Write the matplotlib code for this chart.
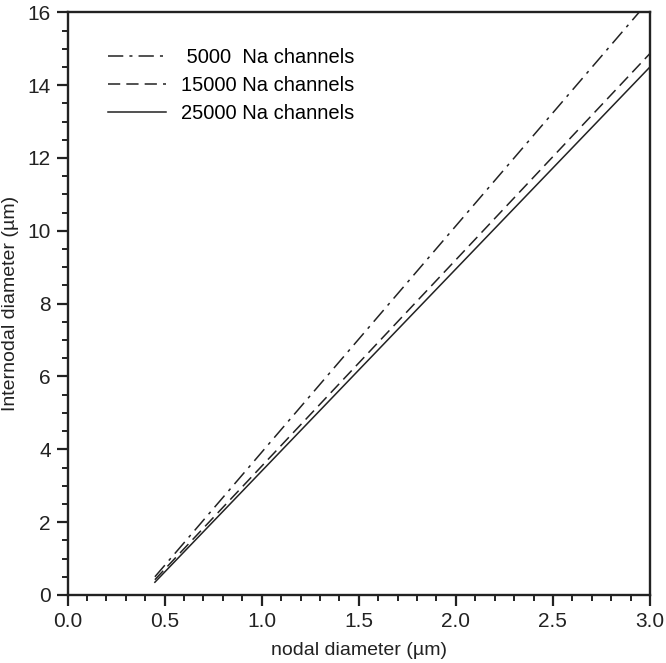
import matplotlib
matplotlib.use("Agg")
import matplotlib.pyplot as plt
from matplotlib.ticker import MultipleLocator, FormatStrFormatter

plt.rcParams['font.family'] = ['Liberation Sans', 'DejaVu Sans']

# Data
x_nodal = [0.45, 3.0]
y_5000 = [0.50, 16.35]
y_15000 = [0.42, 14.87]
y_25000 = [0.35, 14.50]
labels = [" 5000  Na channels", "15000 Na channels", "25000 Na channels"]

fig = plt.figure(figsize=(6.66, 6.63), dpi=100)
ax = fig.add_axes([67.5/666, 1 - 595/663, (650 - 67.5)/666, (595 - 12.3)/663])

lw = 1.1
c = '#222222'
ax.plot(x_nodal, y_5000, color=c, lw=lw, linestyle=(0, (10, 4, 2, 4)), label=labels[0])
ax.plot(x_nodal, y_15000, color=c, lw=lw, linestyle=(0, (8, 4)), label=labels[1])
ax.plot(x_nodal, y_25000, color=c, lw=lw, linestyle='-', label=labels[2])

ax.set_xlim(0, 3.0)
ax.set_ylim(0, 16)
ax.xaxis.set_major_locator(MultipleLocator(0.5))
ax.xaxis.set_minor_locator(MultipleLocator(0.1))
ax.yaxis.set_major_locator(MultipleLocator(2))
ax.yaxis.set_minor_locator(MultipleLocator(0.5))
ax.xaxis.set_major_formatter(FormatStrFormatter('%.1f'))

for s in ax.spines.values():
    s.set_linewidth(1.7)
    s.set_color(c)
ax.tick_params(which='major', direction='out', length=8, width=1.6, labelsize=15,
               colors=c, pad=4)
ax.tick_params(which='minor', direction='out', length=4, width=1.4, colors=c)
ax.tick_params(top=False, right=False)

ax.set_xlabel("nodal diameter (µm)", fontsize=14, color=c, labelpad=8)
ax.set_ylabel("Internodal diameter (µm)", fontsize=14, color=c, labelpad=6)

leg = ax.legend(loc='upper left', bbox_to_anchor=(0.055, 0.953), frameon=False,
                borderaxespad=0, fontsize=14.5, handlelength=2.9, handletextpad=0.75,
                labelspacing=0.45)

fig.savefig("out.png", dpi=100)
